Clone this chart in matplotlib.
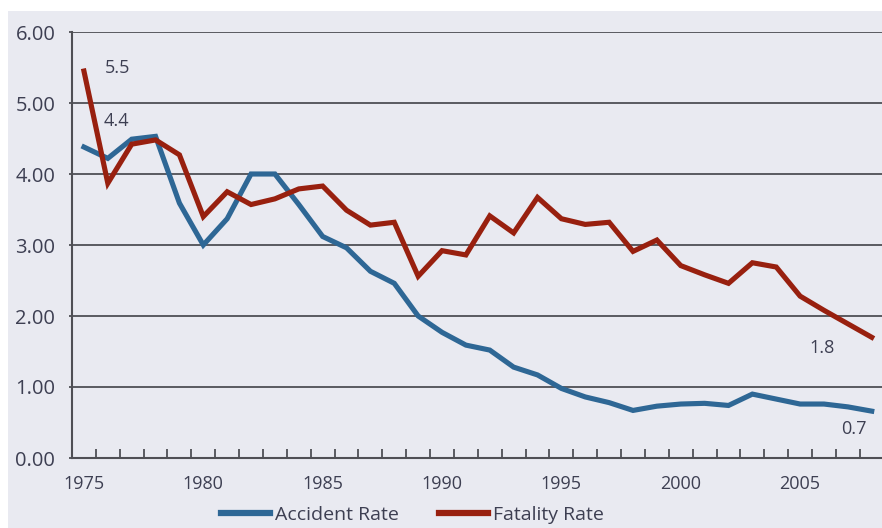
import matplotlib
matplotlib.use("Agg")
import matplotlib.pyplot as plt
from matplotlib.patches import Rectangle
from matplotlib.lines import Line2D

years = list(range(1975, 2009))
accident_rate = [4.38, 4.22, 4.49, 4.53, 3.59, 3.00, 3.37, 4.00, 4.00, 3.57,
                 3.12, 2.96, 2.63, 2.46, 2.00, 1.77, 1.59, 1.52, 1.28, 1.17,
                 0.98, 0.86, 0.78, 0.67, 0.73, 0.76, 0.77, 0.74, 0.90, 0.83,
                 0.76, 0.76, 0.72, 0.66]
fatality_rate = [5.45, 3.87, 4.42, 4.48, 4.27, 3.40, 3.75, 3.57, 3.65, 3.79,
                 3.83, 3.49, 3.28, 3.32, 2.56, 2.92, 2.86, 3.41, 3.17, 3.67,
                 3.37, 3.29, 3.32, 2.91, 3.07, 2.71, 2.58, 2.46, 2.75, 2.69,
                 2.28, 2.08, 1.89, 1.70]
xtick_years = [1975, 1980, 1985, 1990, 1995, 2000, 2005]
ytick_vals = [0, 1, 2, 3, 4, 5, 6]
ytick_labels = ["0.00", "1.00", "2.00", "3.00", "4.00", "5.00", "6.00"]
series_names = ["Accident Rate", "Fatality Rate"]
annotations = [("5.5", 1976.4, 5.49), ("4.4", 1976.35, 4.75),
               ("1.8", 2005.9, 1.55), ("0.7", 2007.25, 0.41)]

BG = "#e9eaf1"
TXT = "#3d3f52"
BLUE = "#2e6795"
RED = "#98200f"
GRID = "#4f4f55"

plt.rcParams['font.family'] = ['Open Sans', 'DejaVu Sans']

W, H = 882, 528
fig = plt.figure(figsize=(W / 100, H / 100), dpi=100)
fig.patch.set_facecolor("white")
fig.add_artist(Rectangle((8 / W, 0), 1 - 8 / W, 1 - 11 / H,
                         transform=fig.transFigure, facecolor=BG,
                         edgecolor="none", zorder=-10))

ax = fig.add_axes([72 / W, 70 / H, (W - 72) / W, (458 - 32) / H])
ax.set_facecolor("none")

for y in ytick_vals:
    ax.axhline(y, color=GRID, lw=1.3, zorder=1)

ax.plot(years, accident_rate, color=BLUE, lw=3.7, solid_joinstyle="miter",
        zorder=3, label=series_names[0])
ax.plot(years, fatality_rate, color=RED, lw=3.7, solid_joinstyle="miter",
        zorder=3, label=series_names[1])

ax.set_xlim(1974.5, 2008.43)
ax.set_ylim(0, 6)

for s in ["top", "right"]:
    ax.spines[s].set_visible(False)
for s in ["left", "bottom"]:
    ax.spines[s].set_color(GRID)
    ax.spines[s].set_linewidth(1.5)

ax.set_yticks(ytick_vals)
ax.set_yticklabels(ytick_labels)
ax.tick_params(axis="y", length=2, width=1.3, color=GRID, pad=10,
               labelsize=14.5, labelcolor=TXT)

ax.set_xticks(xtick_years)
ax.set_xticklabels([str(y) for y in xtick_years])
ax.set_xticks([y + 0.5 for y in years[:-1]], minor=True)
ax.tick_params(axis="x", which="major", length=0, pad=12,
               labelsize=13, labelcolor=TXT)
ax.tick_params(axis="x", which="minor", direction="in", length=6.5,
               width=1.3, color=GRID)

for txt, x, y in annotations:
    ax.text(x, y, txt, ha="center", va="center", fontsize=13, color=TXT,
            zorder=4)

handles = [Line2D([], [], color=BLUE, lw=4.5),
           Line2D([], [], color=RED, lw=4.5)]
leg = fig.legend(handles, series_names, loc="center",
                 bbox_to_anchor=(412.5 / W, 1 - 515 / H), ncol=2,
                 frameon=False, fontsize=14, handlelength=2.5,
                 handletextpad=0.25, columnspacing=2.1, labelcolor=TXT)

fig.savefig("out.png", dpi=100, facecolor=fig.get_facecolor())
